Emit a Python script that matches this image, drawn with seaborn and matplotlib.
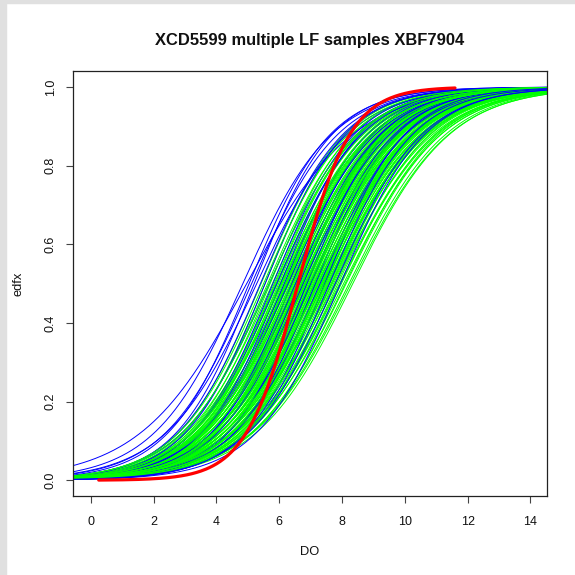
import numpy as np
import pandas as pd
import matplotlib
matplotlib.use("Agg")
import matplotlib.pyplot as plt
from matplotlib.patches import Rectangle
import seaborn as sns

# Fitted curves (logistic location / scale)
green_loc = [5.42, 5.55, 5.63, 5.71, 5.78, 5.84, 5.90, 5.94, 5.98, 6.02,
             6.05, 6.09, 6.12, 6.16, 6.19, 6.22, 6.26, 6.29, 6.31, 6.35,
             6.38, 6.41, 6.44, 6.47, 6.50, 6.52, 6.55, 6.58, 6.61, 6.63,
             6.66, 6.69, 6.71, 6.74, 6.77, 6.80, 6.82, 6.85, 6.88, 6.90,
             6.93, 6.96, 6.99, 7.02, 7.04, 7.07, 7.10, 7.13, 7.16, 7.18,
             7.21, 7.24, 7.27, 7.30, 7.33, 7.36, 7.39, 7.42, 7.45, 7.48,
             7.51, 7.54, 7.58, 7.61, 7.65, 7.69, 7.73, 7.77, 7.82, 7.87,
             7.92, 7.98, 8.05, 8.13, 8.22, 8.34, 6.20, 6.60, 7.00, 7.40,
             5.50, 5.68, 5.87, 6.07, 6.24, 6.43, 6.57, 6.72, 6.84, 6.97,
             7.11, 7.23, 7.35, 7.47, 7.56, 7.67, 7.79, 7.95, 8.10, 8.28]
green_scale = [1.33, 1.30, 1.36, 1.31, 1.38, 1.34, 1.40, 1.36, 1.32, 1.41,
               1.37, 1.43, 1.35, 1.40, 1.44, 1.38, 1.42, 1.36, 1.46, 1.40,
               1.44, 1.39, 1.47, 1.42, 1.38, 1.45, 1.41, 1.48, 1.43, 1.39,
               1.46, 1.42, 1.50, 1.44, 1.40, 1.47, 1.43, 1.51, 1.45, 1.41,
               1.48, 1.44, 1.52, 1.46, 1.42, 1.49, 1.45, 1.53, 1.47, 1.43,
               1.50, 1.46, 1.54, 1.48, 1.44, 1.51, 1.47, 1.55, 1.49, 1.45,
               1.52, 1.48, 1.56, 1.50, 1.46, 1.53, 1.49, 1.57, 1.51, 1.47,
               1.54, 1.50, 1.56, 1.52, 1.55, 1.55, 1.30, 1.35, 1.40, 1.45,
               1.36, 1.40, 1.34, 1.43, 1.39, 1.46, 1.42, 1.37, 1.49, 1.44,
               1.40, 1.51, 1.46, 1.42, 1.53, 1.48, 1.44, 1.55, 1.50, 1.57]

blue_loc = [4.84, 4.96, 5.04, 5.12, 5.20, 5.28, 5.40, 5.55, 5.68, 5.80,
            5.92, 6.04, 6.16, 6.28, 6.40, 6.52, 6.64, 6.76, 6.88, 7.00,
            7.15, 7.30, 7.45, 7.60, 7.78, 7.95]
blue_scale = [1.42, 1.70, 1.30, 1.38, 1.25, 1.45, 1.32, 1.28, 1.40, 1.30,
              1.36, 1.27, 1.33, 1.40, 1.29, 1.35, 1.31, 1.38, 1.26, 1.34,
              1.30, 1.37, 1.28, 1.33, 1.39, 1.35]

red_loc = 6.6
red_scale = 0.83
red_range = [0.25, 11.6]

x_ticks = [0, 2, 4, 6, 8, 10, 12, 14]
y_ticks = [0.0, 0.2, 0.4, 0.6, 0.8, 1.0]

# Build long table of curves
rows = []
palette = {}
grid = np.linspace(-0.7, 14.7, 400)
for group, color, locs, scales in [("g", "#00FF00", green_loc, green_scale),
                                   ("b", "#0000FF", blue_loc, blue_scale)]:
    for i, (m, s) in enumerate(zip(locs, scales)):
        name = f"{group}{i}"
        palette[name] = color
        rows.append(pd.DataFrame({"DO": grid,
                                  "edfx": 1 / (1 + np.exp(-(grid - m) / s)),
                                  "curve": name}))
df = pd.concat(rows, ignore_index=True)

# drawing order: blues mixed in among the greens
order = []
bi = 0
for gi in range(len(green_loc)):
    order.append(f"g{gi}")
    if gi % 4 == 3 and bi < len(blue_loc):
        order.append(f"b{bi}")
        bi += 1
order += [f"b{k}" for k in range(bi, len(blue_loc))]

red_x = np.linspace(red_range[0], red_range[1], 300)
red_df = pd.DataFrame({"DO": red_x, "edfx": 1 / (1 + np.exp(-(red_x - red_loc) / red_scale))})

sns.set_theme(style="ticks")
plt.rcParams["font.family"] = ["Liberation Sans", "DejaVu Sans"]

fig = plt.figure(figsize=(5.75, 5.75), dpi=100)
ax = fig.add_axes([73.3 / 575, 1 - 496 / 575, 474 / 575, 424.7 / 575])

sns.lineplot(data=df, x="DO", y="edfx", hue="curve", estimator=None,
             palette=palette, hue_order=order,
             lw=0.7, legend=False, ax=ax, sort=False)
sns.lineplot(data=red_df, x="DO", y="edfx", color="#FF0000", lw=2.3, ax=ax, sort=False)

ax.set_xlim(-0.56, 14.54)
ax.set_ylim(-0.04, 1.04)
ax.set_xticks(x_ticks)
ax.set_yticks(y_ticks)
ax.set_xticklabels([str(t) for t in x_ticks])
ax.set_yticklabels([f"{t:.1f}" for t in y_ticks], rotation=90, va="center")
ax.tick_params(axis="both", direction="out", length=5, width=0.8, colors="#444444",
               labelcolor="#111111", labelsize=9)
ax.tick_params(axis="x", pad=9.5)
ax.tick_params(axis="y", pad=7)
for sp in ax.spines.values():
    sp.set_visible(True)
    sp.set_color("#222222")
    sp.set_linewidth(0.9)
ax.set_xlabel("")
ax.set_ylabel("")

fig.text(310 / 575, 1 - 40 / 575, "XCD5599 multiple LF samples XBF7904",
         ha="center", va="center", fontsize=11.9, fontweight="bold", color="#111111")
fig.text(310 / 575, 1 - 552 / 575, "DO", ha="center", va="center", fontsize=9.3, color="#111111")
fig.text(18 / 575, 1 - 284 / 575, "edfx", ha="center", va="center", rotation=90,
         fontsize=9.3, color="#111111")

# light gray border strips like the original screenshot
fig.patches.append(Rectangle((0, 0), 6 / 575, 1, transform=fig.transFigure,
                             color="#e0e0e0", zorder=0))
fig.patches.append(Rectangle((0, 1 - 3 / 575), 1, 3 / 575, transform=fig.transFigure,
                             color="#e0e0e0", zorder=0))

fig.savefig("out.png", dpi=100)
